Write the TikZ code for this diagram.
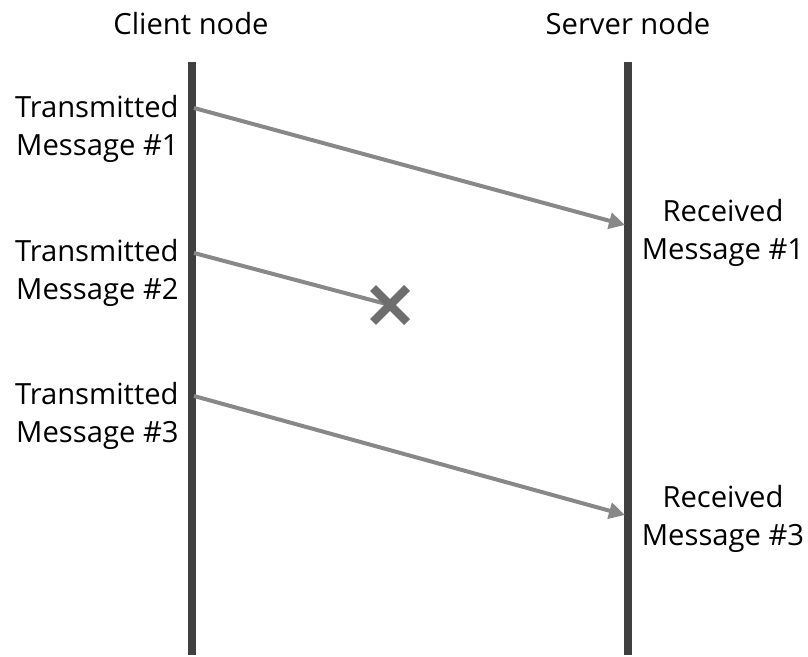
\documentclass[tikz,border=0pt]{standalone}
\usepackage{fontspec}
\setmainfont{Open Sans}
\usetikzlibrary{arrows.meta,calc,positioning}
\definecolor{lifeline}{HTML}{404040}
\definecolor{msggray}{HTML}{888888}
\definecolor{lossgray}{HTML}{6E6E6E}
\tikzset{
  lifeline/.style={draw=lifeline,line width=4pt},
  msg/.style={draw=msggray,line width=2pt,-{Triangle[length=8pt,width=8pt]}},
  lost/.style={draw=msggray,line width=2pt},
  lbl/.style={font=\fontsize{14.6}{19}\selectfont,inner sep=0pt},
  head/.style={lbl,anchor=center}
}

\begin{document}
\begin{tikzpicture}[x=0.5pt,y=-0.5pt]
  \useasboundingbox (0,0) rectangle (808,657);
  % lifelines
  \coordinate (ctop) at (192,62);
  \coordinate (cbot) at (192,655);
  \coordinate (stop) at (628,62);
  \coordinate (sbot) at (628,655);
  \draw[lifeline] (ctop)--(cbot);
  \draw[lifeline] (stop)--(sbot);
  \node[head] (client) at (191,24) {Client node};
  \node[head] (server) at (628,24) {Server node};

  % send and receive points
  \coordinate (t1) at (194,108);
  \coordinate (r1) at (625,225);
  \coordinate (t2) at (194,253);
  \coordinate (t3) at (194,396);
  \coordinate (r3) at (625,515);
  \node[inner sep=0pt] (loss) at (390,305) {};

  \node[lbl,align=right,anchor=east] (tx1) at (179,129) {Transmitted\\Message \#1};
  \node[lbl,align=right,anchor=east] (tx2) at (179,273) {Transmitted\\Message \#2};
  \node[lbl,align=right,anchor=east] (tx3) at (179,416) {Transmitted\\Message \#3};
  \node[lbl,align=center] (rx1) at (723,233) {Received\\Message \#1};
  \node[lbl,align=center] (rx3) at (723,519) {Received\\Message \#3};

  \draw[msg] (t1)--(r1);
  \draw[lost] (t2)--(loss);
  \draw[msg] (t3)--(r3);
  % the lost message
  \draw[lossgray,line width=4.2pt] ($(loss)+(-17,-17)$)--($(loss)+(17,17)$)
    ($(loss)+(-17,17)$)--($(loss)+(17,-17)$);
\end{tikzpicture}
\end{document}
